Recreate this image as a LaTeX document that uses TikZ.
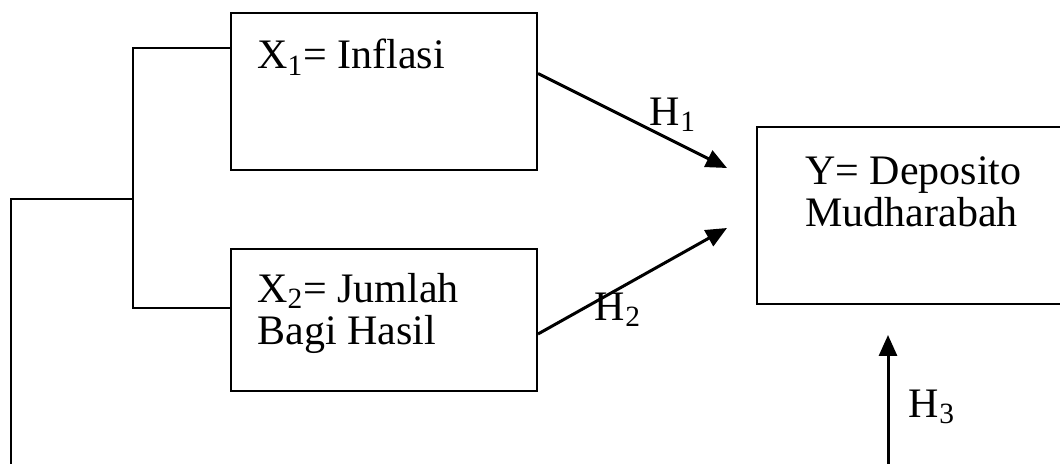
\documentclass[tikz,border=0pt]{standalone}
\usepackage{fontspec}
\setmainfont{Liberation Serif}
\usetikzlibrary{arrows.meta,calc}
\begin{document}
\begin{tikzpicture}[x=0.5pt,y=-0.5pt,
  box/.style={draw, line width=1pt, inner sep=0pt, anchor=north west},
  txt/.style={font=\fontsize{21}{21}\selectfont, inner sep=0pt, anchor=north west, align=left},
  hlab/.style={font=\fontsize{21}{21}\selectfont, inner sep=0pt},
  link/.style={line width=0.9pt},
  arr/.style={line width=1.5pt, -{Triangle[length=10.5pt,width=9pt]}}]
  \useasboundingbox (0,0) rectangle (1060,464);
  \clip (0,0) rectangle (1060,464);

  % variable boxes
  \node[box, minimum width=153pt, minimum height=78.5pt] (x1) at (230,12) {};
  \node[box, minimum width=153pt, minimum height=71pt]   (x2) at (230,248) {};
  \node[box, minimum width=160pt, minimum height=88.5pt] (y)  at (756,126) {};

  % box texts
  \node[txt] (x1t) at (257,39) {X\textsubscript{1}= Inflasi};
  \node[txt] (x2t) at (257,273) {X\textsubscript{2}= Jumlah\\Bagi Hasil};
  \node[txt] (yt)  at (805,156) {Y= Deposito\\Mudharabah};

  % bracket joining the two independent variables
  \coordinate (j1) at (133,48);
  \coordinate (j2) at (133,308);
  \coordinate (jm) at (133,199);
  \coordinate (lb) at (11,199);
  \coordinate (bl) at (11,472);
  \coordinate (br) at (888,472);
  \coordinate (t3) at (888,335);
  \draw[link] (x1.west |- j1) -- (j1) -- (j2) -- (x2.west |- j2);
  \draw[link] (jm) -- (lb) -- (bl) -- (br);

  % hypothesis arrows
  \coordinate (t1) at (727,168);
  \coordinate (t2) at (727,228);
  \draw[arr] ([yshift=9pt]x1.east) -- (t1);
  \draw[arr] ([yshift=-7pt]x2.east) -- (t2);
  \draw[arr] (br) -- (t3);

  \node[hlab] (h1) at (673,115) {H\textsubscript{1}};
  \node[hlab] (h2) at (618,310) {H\textsubscript{2}};
  \node[hlab] (h3) at (932,407) {H\textsubscript{3}};
\end{tikzpicture}
\end{document}
